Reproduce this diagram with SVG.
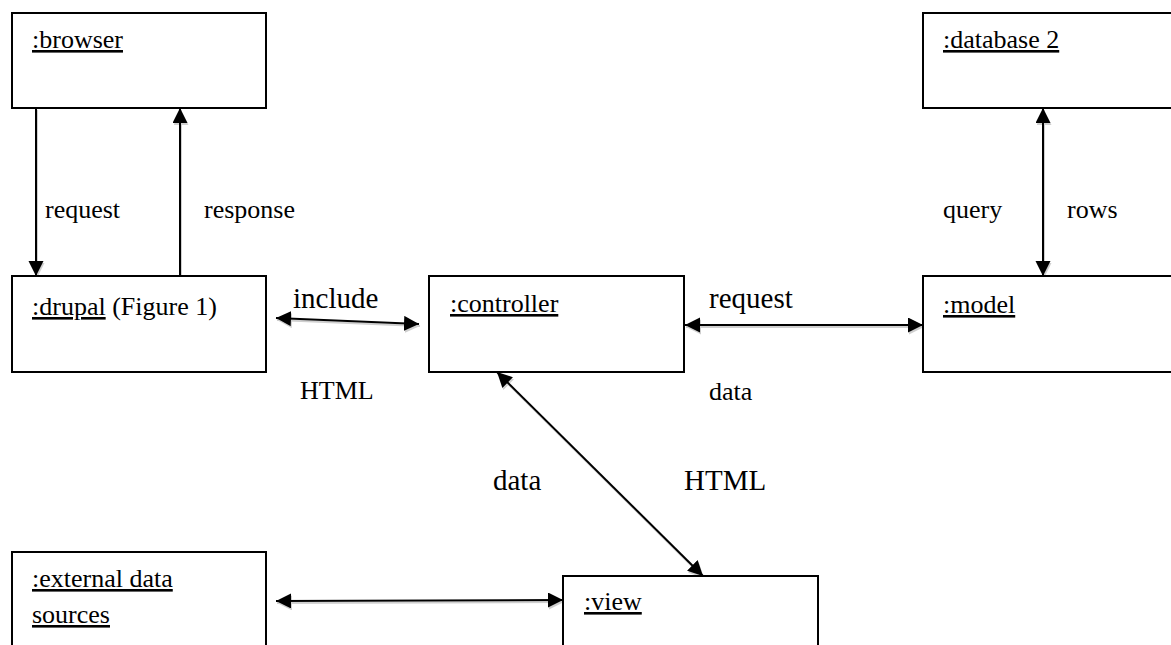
<svg xmlns="http://www.w3.org/2000/svg" width="1171" height="645" viewBox="0 0 1171 645" font-family="'Liberation Serif', 'DejaVu Serif', 'Times New Roman', serif">
  <style>
    .box { fill: #fff; stroke: #000; stroke-width: 2; }
    text { font-family: "Liberation Serif", "DejaVu Serif", "Times New Roman", serif; font-size: 26px; fill: #000; }
    text.big { font-size: 29px; }
    .u { text-decoration: underline; }
    .wire { fill: none; stroke: #000; stroke-width: 2; }
    .shade { fill: none; stroke: #cfcfcf; stroke-width: 2; }
  </style>
  <defs>
    <marker id="tip" markerUnits="userSpaceOnUse" markerWidth="18" markerHeight="18" refX="15" refY="7.5" orient="auto-start-reverse">
      <path d="M0,0 L15,7.5 L0,15 z" fill="#000"/>
    </marker>
    <marker id="tipShade" markerUnits="userSpaceOnUse" markerWidth="18" markerHeight="18" refX="15" refY="7.5" orient="auto-start-reverse">
      <path d="M0,0 L15,7.5 L0,15 z" fill="#cfcfcf"/>
    </marker>
  </defs>

  <rect width="1171" height="645" fill="#fff"/>

  <!-- connectors: soft grey drop shadow first, then the black lines -->
  <g id="connectors">
    <g transform="translate(1,2)">
      <line class="shade" x1="36" y1="108" x2="36" y2="276" marker-end="url(#tipShade)"/>
      <line class="shade" x1="180" y1="276" x2="180" y2="108" marker-end="url(#tipShade)"/>
      <line class="shade" x1="276" y1="318" x2="419" y2="324" marker-start="url(#tipShade)" marker-end="url(#tipShade)"/>
      <line class="shade" x1="685" y1="325" x2="923" y2="325" marker-start="url(#tipShade)" marker-end="url(#tipShade)"/>
      <line class="shade" x1="1043" y1="108" x2="1043" y2="276" marker-start="url(#tipShade)" marker-end="url(#tipShade)"/>
      <line class="shade" x1="497" y1="372" x2="703" y2="576" marker-start="url(#tipShade)" marker-end="url(#tipShade)"/>
      <line class="shade" x1="276" y1="601" x2="563" y2="600" marker-start="url(#tipShade)" marker-end="url(#tipShade)"/>
    </g>
    <line id="browser-drupal" class="wire" x1="36" y1="108" x2="36" y2="276" marker-end="url(#tip)"/>
    <line id="drupal-browser" class="wire" x1="180" y1="276" x2="180" y2="108" marker-end="url(#tip)"/>
    <line id="drupal-controller" class="wire" x1="276" y1="318" x2="419" y2="324" marker-start="url(#tip)" marker-end="url(#tip)"/>
    <line id="controller-model" class="wire" x1="685" y1="325" x2="923" y2="325" marker-start="url(#tip)" marker-end="url(#tip)"/>
    <line id="database-model" class="wire" x1="1043" y1="108" x2="1043" y2="276" marker-start="url(#tip)" marker-end="url(#tip)"/>
    <line id="controller-view" class="wire" x1="497" y1="372" x2="703" y2="576" marker-start="url(#tip)" marker-end="url(#tip)"/>
    <line id="external-view" class="wire" x1="276" y1="601" x2="563" y2="600" marker-start="url(#tip)" marker-end="url(#tip)"/>

    <text x="45" y="218">request</text>
    <text x="204" y="218">response</text>
    <text class="big" x="293" y="308">include</text>
    <text x="300" y="399">HTML</text>
    <text class="big" x="709" y="308">request</text>
    <text x="709" y="400">data</text>
    <text class="big" x="493" y="490">data</text>
    <text class="big" x="684" y="490">HTML</text>
    <text x="943" y="218">query</text>
    <text x="1067" y="218">rows</text>
  </g>

  <g id="browser">
    <rect class="box" x="12" y="13" width="254" height="95"/>
    <text x="32" y="48"><tspan class="u">:browser</tspan></text>
  </g>

  <g id="drupal">
    <rect class="box" x="12" y="276" width="254" height="96"/>
    <text x="32" y="315"><tspan class="u">:drupal</tspan> (Figure 1)</text>
  </g>

  <g id="controller">
    <rect class="box" x="429" y="276" width="255" height="96"/>
    <text x="450" y="312"><tspan class="u">:controller</tspan></text>
  </g>

  <g id="database2">
    <rect class="box" x="923" y="13" width="262" height="95"/>
    <text x="943" y="48"><tspan class="u">:database 2</tspan></text>
  </g>

  <g id="model">
    <rect class="box" x="923" y="276" width="262" height="96"/>
    <text x="943" y="313"><tspan class="u">:model</tspan></text>
  </g>

  <g id="external">
    <rect class="box" x="12" y="552" width="254" height="120"/>
    <text x="32" y="587"><tspan class="u">:external data</tspan></text>
    <text x="32" y="623"><tspan class="u">sources</tspan></text>
  </g>

  <g id="view">
    <rect class="box" x="563" y="576" width="255" height="100"/>
    <text x="584" y="610"><tspan class="u">:view</tspan></text>
  </g>
</svg>
